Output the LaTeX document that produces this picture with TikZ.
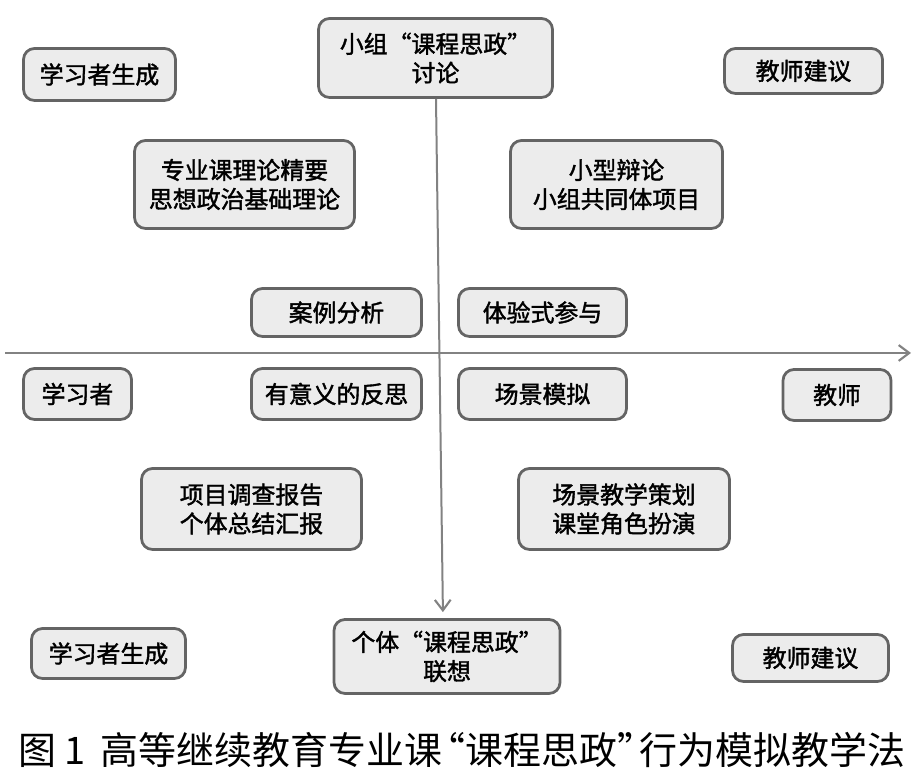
\documentclass[tikz,border=0pt]{standalone}
\usepackage{fontspec}
\setmainfont{Noto Sans CJK SC}
\newfontfamily\boxfont{Noto Sans CJK SC}[FakeBold=1.6]
\usetikzlibrary{arrows.meta}

\definecolor{boxline}{RGB}{100,100,100}
\definecolor{boxfill}{RGB}{236,236,236}
\definecolor{axisgray}{RGB}{130,130,130}

\tikzset{
  box/.style 2 args={draw=boxline, fill=boxfill, line width=0.055cm,
    rounded corners=0.22cm, align=center, inner sep=0pt,
    minimum width=#1*0.02cm, minimum height=#2*0.02cm,
    font=\boxfont\fontsize{13.6}{16.5}\selectfont},
  axis/.style={draw=axisgray, line width=0.04cm,
    -{Straight Barb[length=6pt,width=9pt,line width=1.2pt]}}
}

\begin{document}
\begin{tikzpicture}[x=0.02cm, y=-0.02cm]
    \useasboundingbox (0,0) rectangle (924,783);

    % Ejes
    \coordinate (axl) at (5,353);
    \coordinate (axr) at (911,353);
    \draw[axis] (axl) -- (axr);

    % Fila superior
    \node[box={152}{52}] (lgtop) at (99.5,74.5) {学习者生成};
    \node[box={234}{79}] (grp) at (435.5,58) {小组“课程思政”\\讨论};
    \node[box={158}{45}] (jstop) at (803.5,71) {教师建议};

    % Primer cuadrante
    \node[box={220}{88}] (theory) at (244.5,184.5) {专业课理论精要\\思想政治基础理论};
    \node[box={212}{88}] (debate) at (616.5,184.5) {小型辩论\\小组共同体项目};
    \node[box={170}{48}] (case) at (336.5,312.5) {案例分析};
    \node[box={168}{48}] (exper) at (542.5,312.5) {体验式参与};

    % Fila central
    \node[box={108}{51}] (lrn) at (77.5,394) {学习者};
    \node[box={170}{51}] (refl) at (336.5,394) {有意义的反思};
    \node[box={168}{51}] (scene) at (542.5,394) {场景模拟};
    \node[box={108}{51}] (tch) at (837,395) {教师};

    % Segundo cuadrante
    \node[box={220}{81}] (report) at (251.5,509) {项目调查报告\\个体总结汇报};
    \node[box={211}{81}] (plan) at (624,509) {场景教学策划\\课堂角色扮演};

    % Fila inferior
    \node[box={154}{50}] (lgbot) at (108.5,653.5) {学习者生成};
    \node[box={226}{74}] (ind) at (447,656.5) {个体“课程思政”\\联想};
    \node[box={156}{47}] (jsbot) at (810.5,658) {教师建议};

    % Eje vertical
    \draw[axis, shorten >=0.12cm] (grp.south -| 436,0) -- (ind.north -| 443,0);

    % Título
    \node[font=\fontsize{21.6}{24}\selectfont] (cap) at (462,750)
        {图 1\, 高等继续教育专业课\kern-0.4em“课程思政”\kern-0.4em行为模拟教学法};
\end{tikzpicture}
\end{document}
